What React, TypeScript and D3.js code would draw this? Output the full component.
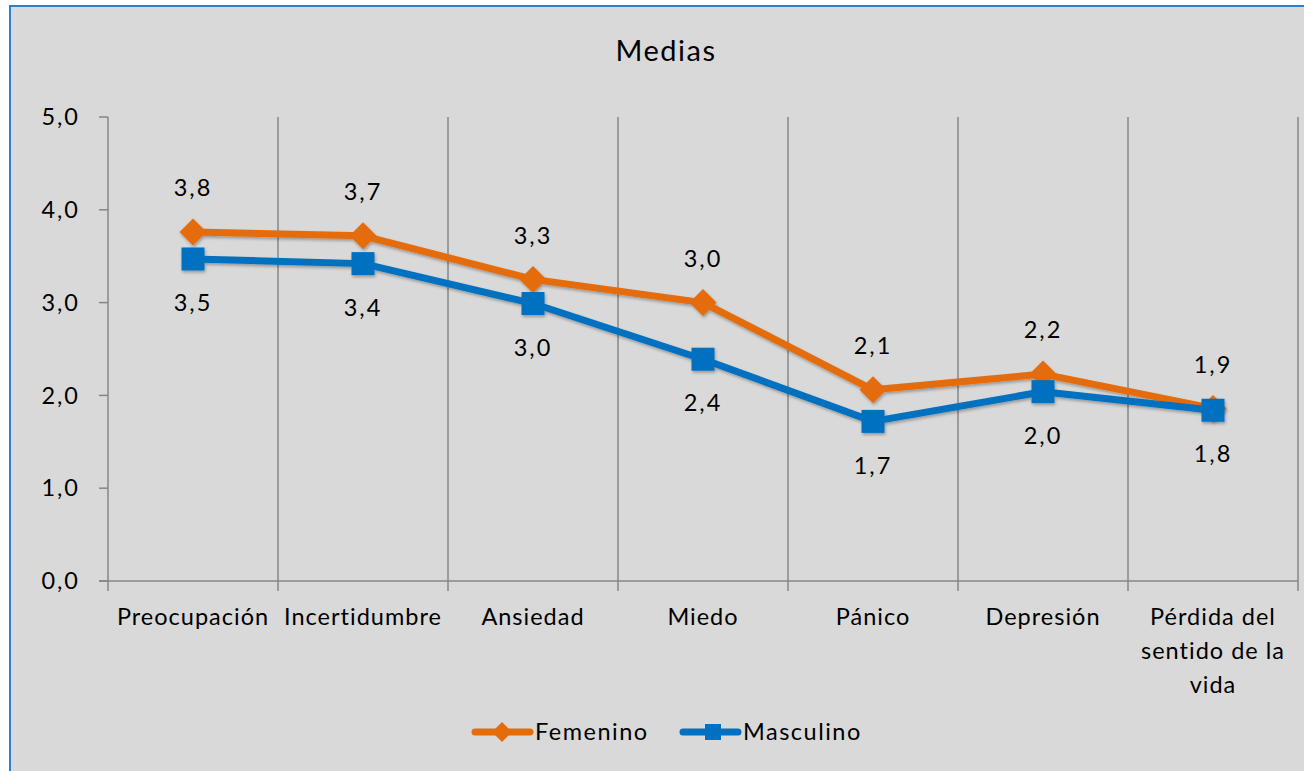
import React from "react";
import * as d3 from "d3";

const categories = ["Preocupación", "Incertidumbre", "Ansiedad", "Miedo", "Pánico", "Depresión", "Pérdida del sentido de la vida"];
const categoryLines = [["Preocupación"], ["Incertidumbre"], ["Ansiedad"], ["Miedo"], ["Pánico"], ["Depresión"], ["Pérdida del", "sentido de la", "vida"]];
const femenino = [3.76, 3.72, 3.25, 3.0, 2.06, 2.23, 1.86];
const masculino = [3.47, 3.42, 2.99, 2.39, 1.72, 2.04, 1.84];
const femeninoLabels = ["3,8", "3,7", "3,3", "3,0", "2,1", "2,2", "1,9"];
const masculinoLabels = ["3,5", "3,4", "3,0", "2,4", "1,7", "2,0", "1,8"];
const yTicks = [0, 1, 2, 3, 4, 5];

const W = 1304, H = 771;
const FONT = "Lato, 'Open Sans', sans-serif";
const ORANGE = "#E46C0A";
const BLUE = "#0070C0";
const FS = 23.5;

export default function App() {
  const x = d3.scaleBand<string>().domain(categories).range([108, 1298]).padding(0);
  const y = d3.scaleLinear().domain([0, 5]).range([581, 117]);
  const cx = (c: string) => (x(c) ?? 0) + x.bandwidth() / 2;
  const line = d3.line<number>().x((_, i) => cx(categories[i])).y((d) => y(d));
  const bounds = [...categories.map((c) => x(c) ?? 0), 1298];

  const diamond = (px: number, py: number, s = 13.5) =>
    `M${px},${py - s}L${px + s},${py}L${px},${py + s}L${px - s},${py}Z`;

  return (
    <svg width={W} height={H} style={{ position: "absolute", left: 0, top: 0 }} fontFamily={FONT}>
      <defs>
        <filter id="sh" x="-50%" y="-50%" width="200%" height="200%">
          <feDropShadow dx="1" dy="2" stdDeviation="1.5" floodColor="#000" floodOpacity="0.3" />
        </filter>
      </defs>
      <rect x={0} y={0} width={W} height={H} fill="#ffffff" />
      <rect x={10} y={6} width={W} height={H} fill="#d9d9d9" stroke="#2e7fd0" strokeWidth={2} />
      <text x={666} y={51} dy="0.35em" fontSize={29} letterSpacing={1.5} textAnchor="middle" fill="#000">Medias</text>

      {bounds.map((bx, i) => (
        <line key={"g" + i} x1={bx} x2={bx} y1={117} y2={591} stroke="#868686" strokeWidth={1.5} />
      ))}
      {yTicks.map((t) => (
        <g key={"t" + t}>
          <line x1={99} x2={108} y1={y(t)} y2={y(t)} stroke="#868686" strokeWidth={1.5} />
          <text x={80} y={y(t)} dy="0.35em" fontSize={FS} letterSpacing={2} textAnchor="end" fill="#000">
            {d3.format(".1f")(t).replace(".", ",")}
          </text>
        </g>
      ))}
      <line x1={99} x2={1298} y1={581} y2={581} stroke="#868686" strokeWidth={1.5} />

      {categories.map((c, i) => (
        <text key={"c" + i} x={cx(c)} y={617} fontSize={FS} letterSpacing={1} textAnchor="middle" fill="#000">
          {categoryLines[i].map((l, j) => (
            <tspan key={j} x={cx(c)} dy={j === 0 ? "0.35em" : 34}>{l}</tspan>
          ))}
        </text>
      ))}

      <g filter="url(#sh)">
        <path d={line(femenino) ?? ""} fill="none" stroke={ORANGE} strokeWidth={7} strokeLinejoin="round" />
        {femenino.map((v, i) => (
          <path key={"fd" + i} d={diamond(cx(categories[i]), y(v))} fill={ORANGE} />
        ))}
      </g>
      <g filter="url(#sh)">
        <path d={line(masculino) ?? ""} fill="none" stroke={BLUE} strokeWidth={7} strokeLinejoin="round" />
        {masculino.map((v, i) => (
          <rect key={"ms" + i} x={cx(categories[i]) - 11.5} y={y(v) - 11.5} width={23} height={23} fill={BLUE} />
        ))}
      </g>

      {femenino.map((v, i) => (
        <text key={"fl" + i} x={cx(categories[i])} y={y(v) - 44} dy="0.35em" fontSize={FS} letterSpacing={2} textAnchor="middle" fill="#000">
          {femeninoLabels[i]}
        </text>
      ))}
      {masculino.map((v, i) => (
        <text key={"ml" + i} x={cx(categories[i])} y={y(v) + 44} dy="0.35em" fontSize={FS} letterSpacing={2} textAnchor="middle" fill="#000">
          {masculinoLabels[i]}
        </text>
      ))}

      <line x1={475} x2={530} y1={732} y2={732} stroke={ORANGE} strokeWidth={7} strokeLinecap="round" />
      <path d={diamond(502, 732, 10)} fill={ORANGE} />
      <text x={535} y={732} dy="0.35em" fontSize={FS} letterSpacing={1.5} fill="#000">Femenino</text>
      <line x1={683} x2={738} y1={732} y2={732} stroke={BLUE} strokeWidth={7} strokeLinecap="round" />
      <rect x={705} y={724} width={16} height={16} fill={BLUE} />
      <text x={743} y={732} dy="0.35em" fontSize={FS} letterSpacing={1.5} fill="#000">Masculino</text>
    </svg>
  );
}
